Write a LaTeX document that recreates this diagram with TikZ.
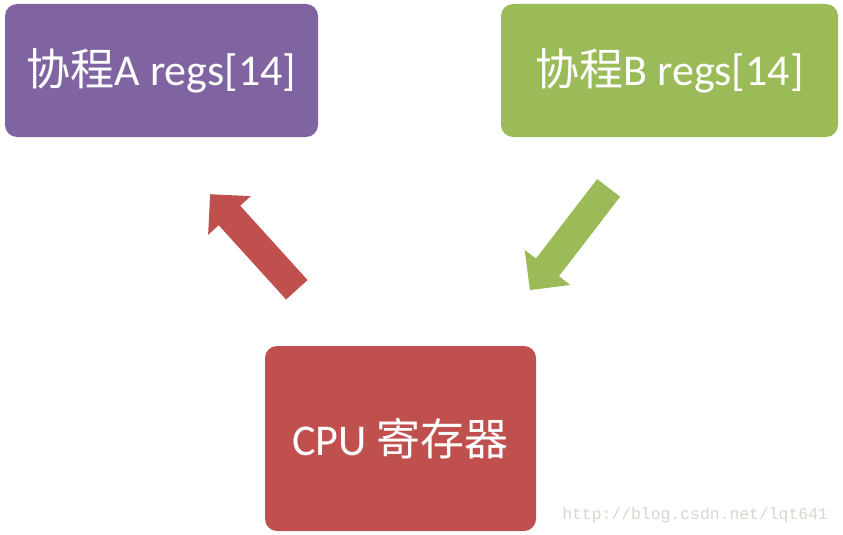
\documentclass[tikz,border=0pt]{standalone}
\usepackage{fontspec}
\setmainfont{Carlito}
\setmonofont{Liberation Mono}
\newfontfamily\cjk{Noto Sans CJK SC}
\definecolor{coropurple}{HTML}{8064A2}
\definecolor{corogreen}{HTML}{9BBB59}
\definecolor{cpured}{HTML}{C0504D}
\definecolor{markgray}{HTML}{D6D6CE}
\tikzset{
	regbox/.style={rounded corners=12pt, text=white, inner sep=0pt,
				   font=\fontsize{44}{48}\selectfont},
	blockarrow/.pic={
		\fill (-64.5,-14.5) -- (35.8,-14.5) -- (35.8,-28.8) -- (64.5,0)
			-- (35.8,28.8) -- (35.8,14.5) -- (-64.5,14.5) -- cycle;
	},
}

\begin{document}
\begin{tikzpicture}[x=1pt,y=-1pt]
\useasboundingbox (0,0) rectangle (843,535);

\node[regbox, fill=coropurple, minimum width=313pt, minimum height=133pt](coroA) at (161.5,70.5) {{\cjk 协程}A regs[14]};
\node[regbox, fill=corogreen, minimum width=337pt, minimum height=133pt](coroB) at (669.5,70.5) {{\cjk 协程}B regs[14]};
\node[regbox, fill=cpured, minimum width=271pt, minimum height=185pt](cpu) at (400.5,438.5) {CPU {\cjk 寄存器}};

\pic[rotate=132.2, fill=cpured] at (253.5,242) {blockarrow};
\pic[rotate=232.4, fill=corogreen] at (569.3,239) {blockarrow};

\node[text=markgray, font=\ttfamily\fontsize{16.4}{18}\selectfont, anchor=east](mark) at (831.5,515) {http://blog.csdn.net/lqt641};

\end{tikzpicture}
\end{document}
